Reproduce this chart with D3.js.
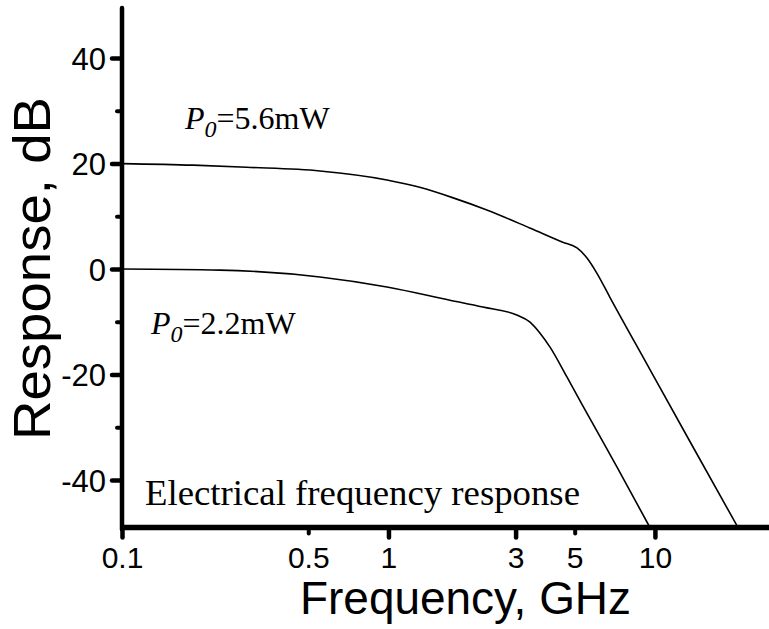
<!DOCTYPE html>
<html><head><meta charset="utf-8">
<script src="https://cdn.jsdelivr.net/npm/d3@7"></script>
<style>html,body{margin:0;padding:0;background:#fff}</style>
</head><body>
<svg id="c" width="769" height="629"></svg>
<script>
// ---- data ----
const freqHigh = [0.1, 0.185, 0.294, 0.553, 0.987, 1.31, 1.75, 2.34, 3.39, 4.51, 5.1, 5.56, 6.06, 6.77, 9.57, 13.5, 20.5];
const respHigh = [20, 19.7, 19.3, 18.6, 16.9, 15.5, 13.5, 11.2, 7.8, 5.1, 4.0, 2.1, -0.8, -5.3, -19.0, -32.6, -49];
const freqLow = [0.1, 0.233, 0.553, 0.987, 1.70, 2.26, 3.03, 3.39, 3.70, 4.04, 4.68, 5.37, 7.2, 9.58];
const respLow = [0, -0.2, -1.5, -3.4, -5.9, -7.2, -8.7, -10.0, -12.1, -14.8, -20.5, -26.0, -37.5, -49];
const xMajorTicks = [0.1, 1, 3, 10];
const xMinorTicks = [0.5, 5];
const xTickLabels = ["0.1", "0.5", "1", "3", "5", "10"];
const xLabelTicks = [0.1, 0.5, 1, 3, 5, 10];
const yMajorTicks = [-40, -20, 0, 20, 40];
const yTickLabels = ["-40", "-20", "0", "20", "40"];
const yMinorTicks = [-30, -10, 10, 30];
const labelHigh = "=5.6mW";
const labelLow = "=2.2mW";
const noteText = "Electrical frequency response";

const svg = d3.select("#c");
const x = d3.scaleLog().domain([0.1, 26.8]).range([122, 769]);
const y = d3.scaleLinear().domain([-49, 49.5]).range([527.5, 8]);

svg.append("clipPath").attr("id","clip").append("rect")
  .attr("x",122).attr("y",8).attr("width",647).attr("height",519.5);

const line = d3.line().x(d=>x(d[0])).y(d=>y(d[1])).curve(d3.curveMonotoneX);
const g = svg.append("g").attr("clip-path","url(#clip)");
g.append("path").datum(freqHigh.map((f,i)=>[f,respHigh[i]]))
  .attr("d",line).attr("fill","none").attr("stroke","#000").attr("stroke-width",1.6);
g.append("path").datum(freqLow.map((f,i)=>[f,respLow[i]]))
  .attr("d",line).attr("fill","none").attr("stroke","#000").attr("stroke-width",1.6);

const axW = 4.5;
const yAxis = svg.append("g").attr("transform","translate(122,0)")
  .call(d3.axisLeft(y).tickValues(yMajorTicks).tickSize(10).tickSizeOuter(0).tickPadding(6)
        .tickFormat((d,i)=>yTickLabels[i]));
yAxis.select(".domain").remove();
yAxis.selectAll(".tick line").attr("stroke","#000").attr("stroke-width",4.5).attr("stroke-linecap","round").attr("x1",-2);
yAxis.selectAll(".tick text").attr("font-family","'Liberation Sans',Arial,sans-serif").attr("font-size",31).attr("fill","#000").attr("dy","0.36em");
const yMinor = svg.append("g").attr("transform","translate(122,0)")
  .call(d3.axisLeft(y).tickValues(yMinorTicks).tickSize(5).tickFormat(""));
yMinor.select(".domain").remove();
yMinor.selectAll(".tick line").attr("stroke","#000").attr("stroke-width",4).attr("stroke-linecap","round").attr("x1",-2);

const xAxis = svg.append("g").attr("transform","translate(0,527.5)")
  .call(d3.axisBottom(x).tickValues(xMajorTicks).tickSize(10).tickFormat(""));
xAxis.select(".domain").remove();
xAxis.selectAll(".tick line").attr("stroke","#000").attr("stroke-width",4.5).attr("stroke-linecap","round").attr("y1",2);
const xMinor = svg.append("g").attr("transform","translate(0,527.5)")
  .call(d3.axisBottom(x).tickValues(xMinorTicks).tickSize(6).tickFormat(""));
xMinor.select(".domain").remove();
xMinor.selectAll(".tick line").attr("stroke","#000").attr("stroke-width",4).attr("stroke-linecap","round").attr("y1",2);
const xLab = svg.append("g").attr("transform","translate(0,527.5)")
  .call(d3.axisBottom(x).tickValues(xLabelTicks).tickSize(0).tickPadding(19).tickFormat((d,i)=>xTickLabels[i]));
xLab.select(".domain").remove();
xLab.selectAll(".tick text").attr("font-family","'Liberation Sans',Arial,sans-serif").attr("font-size",30).attr("fill","#000");

svg.append("line").attr("x1",122).attr("x2",122).attr("y1",8).attr("y2",529.5)
  .attr("stroke","#000").attr("stroke-width",axW).attr("stroke-linecap","round");
svg.append("line").attr("x1",120).attr("x2",769).attr("y1",527.5).attr("y2",527.5)
  .attr("stroke","#000").attr("stroke-width",axW+1);

svg.append("text").attr("transform","translate(50,268.5) rotate(-90)")
  .attr("text-anchor","middle").attr("font-family","'Liberation Sans',Arial,sans-serif")
  .attr("font-size",52).attr("textLength",343).attr("lengthAdjust","spacingAndGlyphs").text("Response, dB");
svg.append("text").attr("x",465.5).attr("y",614)
  .attr("text-anchor","middle").attr("font-family","'Liberation Sans',Arial,sans-serif")
  .attr("font-size",46).attr("textLength",331).attr("lengthAdjust","spacingAndGlyphs").text("Frequency, GHz");

function pLabel(xp, yp, rest){
  const t = svg.append("text").attr("x",xp).attr("y",yp)
    .attr("font-family","'Liberation Serif','Times New Roman',serif").attr("font-size",32).attr("fill","#000");
  t.append("tspan").attr("font-style","italic").text("P");
  t.append("tspan").attr("font-style","italic").attr("font-size",24).attr("dy",8).text("0");
  t.append("tspan").attr("dy",-8).text(rest);
}
pLabel(185, 129, labelHigh);
pLabel(151, 334, labelLow);
svg.append("text").attr("x",145).attr("y",505)
  .attr("font-family","'Liberation Serif','Times New Roman',serif").attr("font-size",36)
  .attr("textLength",435).attr("lengthAdjust","spacingAndGlyphs").text(noteText);
</script>
</body></html>
